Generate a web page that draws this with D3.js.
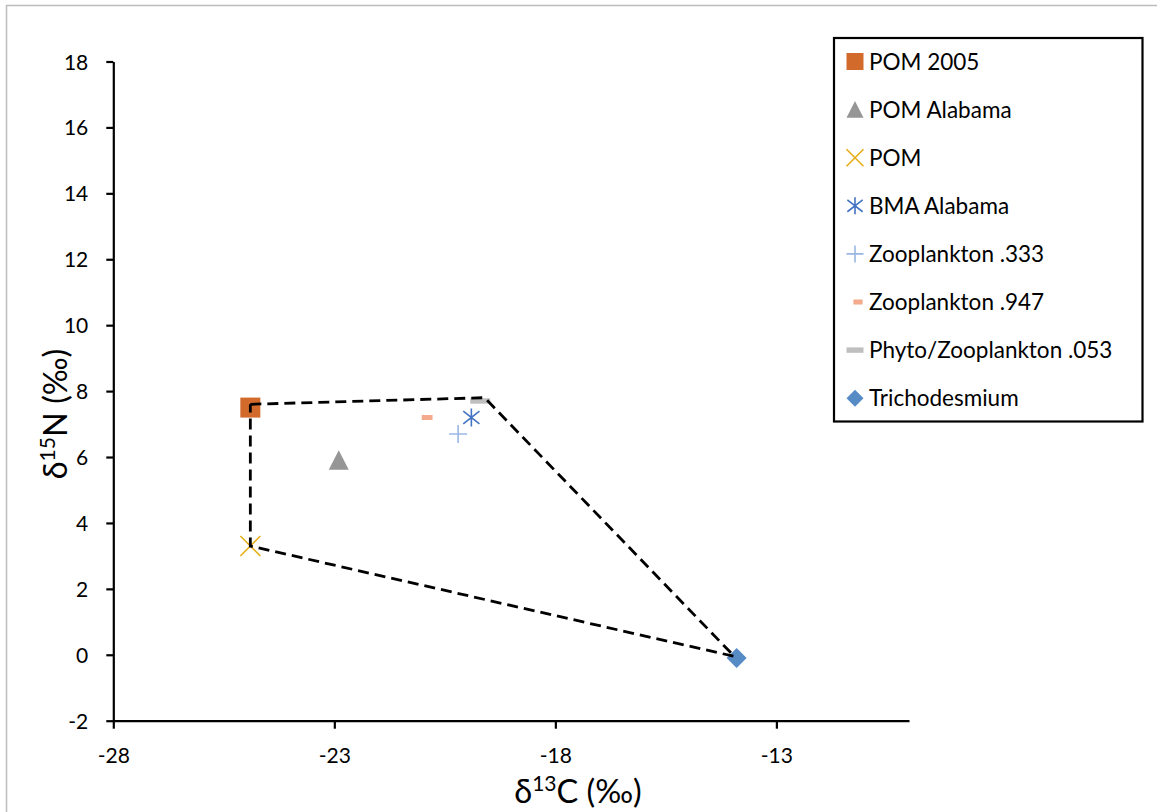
<!DOCTYPE html>
<html>
<head>
<meta charset="utf-8">
<script src="https://cdn.jsdelivr.net/npm/d3@7"></script>
<style>
  html, body { margin: 0; padding: 0; background: #fff; }
  svg { display: block; font-family: Lato, "Open Sans", sans-serif; }
</style>
</head>
<body>
<svg id="chart" width="1157" height="812"></svg>
<script>
// Series names, in legend order
const seriesNames = [
  "POM 2005", "POM Alabama", "POM", "BMA Alabama",
  "Zooplankton .333", "Zooplankton .947", "Phyto/Zooplankton .053", "Trichodesmium"
];
// δ13C (‰) of each series point
const carbonValues = [-24.9, -22.9, -24.9, -19.9, -20.2, -20.9, -19.7, -13.9];
// δ15N (‰) of each series point
const nitrogenValues = [7.5, 5.9, 3.3, 7.2, 6.7, 7.2, 7.7, -0.1];
// Outline joining the outer points (closed polygon)
const hullCarbon = [-24.9, -19.6, -13.95, -24.9, -24.9];
const hullNitrogen = [7.6, 7.8, -0.05, 3.3, 7.6];
// Axis ticks
const xTicks = [-28, -23, -18, -13];
const yTicks = [-2, 0, 2, 4, 6, 8, 10, 12, 14, 16, 18];

const colors = ["#D26A2C", "#969696", "#E6AE17", "#4472C4", "#9AB7E3", "#F4AA8C", "#BFBFBF", "#568BC6"];
const shapes = ["square", "triangle", "x", "star", "plus", "dashSmall", "dashWide", "diamond"];

const svg = d3.select("#chart");

// outer chart frame
svg.append("rect")
  .attr("x", 6.5).attr("y", 5.5).attr("width", 1200).attr("height", 900)
  .attr("fill", "#fff").attr("stroke", "#bdbdbd").attr("stroke-width", 1.5);

const x = d3.scaleLinear().domain([-28, -10]).range([113.3, 909]);
const y = d3.scaleLinear().domain([-2, 18]).range([720.7, 61.5]);

// plain hyphen-minus labels
const fmt = d => String(d);

// axes
const yAxis = svg.append("g")
  .attr("transform", `translate(${x(-28)},0)`)
  .call(d3.axisLeft(y).tickValues(yTicks).tickFormat(fmt)
    .tickSizeInner(7).tickSizeOuter(0).tickPadding(18));
const xAxis = svg.append("g")
  .attr("transform", `translate(0,${y(-2)})`)
  .call(d3.axisBottom(x).tickValues(xTicks).tickFormat(fmt)
    .tickSizeInner(8).tickSizeOuter(0).tickPadding(19));
[xAxis, yAxis].forEach(g => {
  g.select(".domain").attr("stroke", "#000").attr("stroke-width", 2.2);
  g.selectAll(".tick line").attr("stroke", "#000").attr("stroke-width", 2.2);
  g.selectAll(".tick text").attr("fill", "#000")
    .style("font-size", "21px").style("font-family", "Lato, sans-serif");
});
yAxis.selectAll(".tick text").attr("dy", "0.36em");

// marker drawing
function drawMarker(g, shape, cx, cy, s, color) {
  // s: nominal marker width in px
  const h = s / 2;
  switch (shape) {
    case "square":
      g.append("rect").attr("x", cx - h).attr("y", cy - h).attr("width", s).attr("height", s).attr("fill", color);
      break;
    case "triangle":
      g.append("path").attr("d", `M${cx},${cy - h}L${cx + h},${cy + h * 0.95}L${cx - h},${cy + h * 0.95}Z`).attr("fill", color);
      break;
    case "diamond":
      g.append("path").attr("d", `M${cx},${cy - h}L${cx + h},${cy}L${cx},${cy + h}L${cx - h},${cy}Z`).attr("fill", color);
      break;
    case "x":
      g.append("path").attr("d", `M${cx - h},${cy - h}L${cx + h},${cy + h}M${cx - h},${cy + h}L${cx + h},${cy - h}`)
        .attr("stroke", color).attr("stroke-width", 1.6).attr("fill", "none");
      break;
    case "star":
      g.append("path").attr("d", `M${cx - h * 0.9},${cy - h * 0.7}L${cx + h * 0.9},${cy + h * 0.7}M${cx - h * 0.9},${cy + h * 0.7}L${cx + h * 0.9},${cy - h * 0.7}M${cx},${cy - h}L${cx},${cy + h}`)
        .attr("stroke", color).attr("stroke-width", 1.6).attr("fill", "none");
      break;
    case "plus":
      g.append("path").attr("d", `M${cx - h},${cy}L${cx + h},${cy}M${cx},${cy - h}L${cx},${cy + h}`)
        .attr("stroke", color).attr("stroke-width", 1.6).attr("fill", "none");
      break;
    case "dashSmall":
      g.append("rect").attr("x", cx - s * 0.27).attr("y", cy - 2.5).attr("width", s * 0.54).attr("height", 5).attr("fill", color);
      break;
    case "dashWide":
      g.append("rect").attr("x", cx - h).attr("y", cy - 2.7).attr("width", s).attr("height", 5.4).attr("fill", color);
      break;
  }
}

// data points
const points = svg.append("g");
seriesNames.forEach((name, i) => {
  drawMarker(points, shapes[i], x(carbonValues[i]), y(nitrogenValues[i]), i === 3 || i === 4 ? 18 : 20, colors[i]);
});

// dashed outline drawn over the markers
const hull = hullCarbon.map((c, i) => [c, hullNitrogen[i]]);
svg.append("path")
  .datum(hull)
  .attr("d", d3.line().x(d => x(d[0])).y(d => y(d[1])))
  .attr("fill", "none").attr("stroke", "#000").attr("stroke-width", 2.8)
  .attr("stroke-dasharray", "11,6");

// axis titles
const xTitle = svg.append("text")
  .attr("x", 578).attr("y", 803).attr("text-anchor", "middle")
  .style("font-size", "32.5px").attr("fill", "#000");
xTitle.append("tspan").text("δ");
xTitle.append("tspan").attr("dy", -12).style("font-size", "21px").text("13");
xTitle.append("tspan").attr("dy", 12).text("C (‰)");

const yTitle = svg.append("text")
  .attr("transform", "translate(66.5,414) rotate(-90)").attr("text-anchor", "middle")
  .style("font-size", "32.5px").attr("fill", "#000");
yTitle.append("tspan").text("δ");
yTitle.append("tspan").attr("dy", -12).style("font-size", "21px").text("15");
yTitle.append("tspan").attr("dy", 12).text("N (‰)");

// legend
const legend = svg.append("g");
legend.append("rect")
  .attr("x", 834).attr("y", 38).attr("width", 1142.5 - 834).attr("height", 421.5 - 38)
  .attr("fill", "#fff").attr("stroke", "#000").attr("stroke-width", 2.2);
seriesNames.forEach((name, i) => {
  const cy = 61.5 + i * 48.1;
  const cx = shapes[i] === "dashSmall" ? 858 : 855;
  drawMarker(legend, shapes[i], cx, cy, 17, colors[i]);
  legend.append("text")
    .attr("x", 869).attr("y", cy).attr("dy", "0.36em")
    .style("font-size", "22.5px").attr("fill", "#000")
    .text(name);
});
</script>
</body>
</html>
